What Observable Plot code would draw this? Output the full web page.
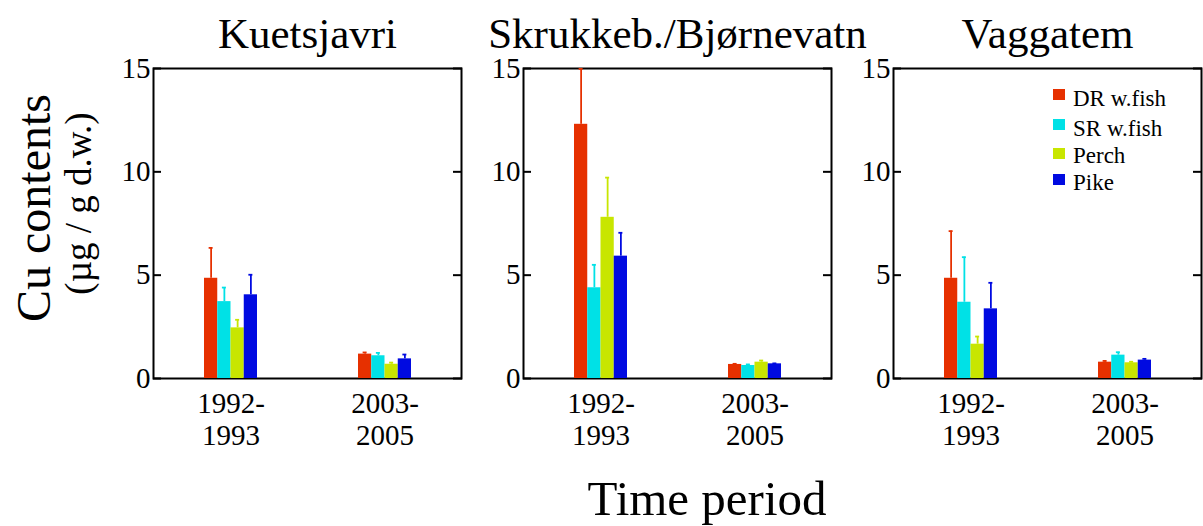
<!DOCTYPE html>
<html>
<head>
<meta charset="utf-8">
<script src="https://cdn.jsdelivr.net/npm/d3@7"></script>
<script src="https://cdn.jsdelivr.net/npm/@observablehq/plot@0.6"></script>
<style>
html, body { margin: 0; padding: 0; background: #fff; }
#wrap { position: relative; width: 1203px; height: 526px; font-family: "Liberation Serif", "Times New Roman", serif; color: #000; overflow: hidden; }
#chart { position: absolute; left: 0; top: 0; }
#chart svg text { font-family: "Liberation Serif", "Times New Roman", serif; }
.lbl { position: absolute; white-space: nowrap; text-align: center; }
.leg { position: absolute; white-space: nowrap; font-size: 23px; line-height: 23px; }
.sw { position: absolute; width: 12px; height: 11px; }
</style>
</head>
<body>
<div id="wrap"><div id="chart"></div></div>
<script>
// ---- data ----
const lakes = ["Kuetsjavri", "Skrukkeb./Bjørnevatn", "Vaggatem"];
const periods = ["1992-1993", "2003-2005"];
const species = ["DR w.fish", "SR w.fish", "Perch", "Pike"];
const colors = ["#e63000", "#00e1e6", "#c8e600", "#000ae1"];
// values ordered: lake1-p1, lake1-p2, lake2-p1, lake2-p2, lake3-p1, lake3-p2
const meanDR    = [4.85, 1.18, 12.30, 0.68, 4.85, 0.79];
const sdDR      = [1.47, 0.08, 2.68, 0.03, 2.28, 0.06];
const meanSR    = [3.72, 1.10, 4.39, 0.63, 3.69, 1.13];
const sdSR      = [0.68, 0.14, 1.11, 0.05, 2.18, 0.14];
const meanPerch = [2.45, 0.69, 7.80, 0.79, 1.66, 0.76];
const sdPerch   = [0.39, 0.08, 1.92, 0.08, 0.37, 0.05];
const meanPike  = [4.05, 0.95, 5.92, 0.71, 3.37, 0.89];
const sdPike    = [0.97, 0.21, 1.13, 0.02, 1.26, 0.06];
const yTicks = [0, 5, 10, 15];

const means = [meanDR, meanSR, meanPerch, meanPike];
const sds = [sdDR, sdSR, sdPerch, sdPike];
const rows = [];
lakes.forEach((lake, li) => periods.forEach((period, pi) => species.forEach((s, si) => {
  const k = li * 2 + pi;
  rows.push({lake, period, species: s, mean: means[si][k], top: means[si][k] + sds[si][k]});
})));

// ---- chart ----
const serif = "Liberation Serif";
const barW = 13.25;
const marks = [Plot.frame({strokeWidth: 2})];
species.forEach((s, i) => {
  const d = rows.filter(r => r.species === s);
  marks.push(
    Plot.barY(d, {fx: "lake", x: "period", y: "mean", fill: colors[i], insetLeft: i * barW, insetRight: (3 - i) * barW}),
    Plot.ruleX(d, {fx: "lake", x: "period", y1: "mean", y2: "top", stroke: colors[i], strokeWidth: 1.8, dx: (i - 1.5) * barW}),
    Plot.tickY(d, {fx: "lake", x: "period", y: "top", stroke: colors[i], strokeWidth: 1.8,
      insetLeft: i * barW + barW / 2 - 2, insetRight: (3 - i) * barW + barW / 2 - 2})
  );
});
marks.push(
  Plot.axisY(yTicks, {anchor: "left", tickSize: -8, tickPadding: 11, fontSize: 29, fontFamily: serif, strokeWidth: 2, label: null, facetAnchor: null}),
  Plot.axisY(yTicks, {anchor: "right", tickSize: -9, tickFormat: () => "", strokeWidth: 2, label: null, facetAnchor: null}),
  Plot.axisX({tickSize: 0, tickPadding: 12, fontSize: 29, fontFamily: serif, lineHeight: 1.1, label: null, tickFormat: d => d.replace("-", "-\n")}),
  Plot.axisFx({anchor: "top", tickSize: 0, tickPadding: 21, fontSize: 43, fontFamily: serif, label: null})
);

const chart = Plot.plot({
  width: 1203,
  height: 526,
  marginLeft: 153,
  marginRight: 2,
  marginTop: 68,
  marginBottom: 148,
  style: {fontFamily: "'Liberation Serif', 'Times New Roman', serif", background: "white", color: "black", overflow: "visible"},
  fx: {domain: lakes, paddingInner: 0.168, paddingOuter: 0},
  x: {domain: periods, paddingInner: 0.658, paddingOuter: 0.329},
  y: {domain: [0, 15]},
  marks
});
document.getElementById("chart").appendChild(chart);

// ---- labels ----
const wrap = document.getElementById("wrap");
function addLabel(text, size, cx, cy, rotate) {
  const el = document.createElement("div");
  el.className = "lbl";
  el.textContent = text;
  el.style.fontSize = size + "px";
  el.style.lineHeight = size + "px";
  el.style.width = "400px";
  el.style.left = (cx - 200) + "px";
  el.style.top = (cy - size / 2) + "px";
  if (rotate) el.style.transform = "rotate(-90deg)";
  wrap.appendChild(el);
}
addLabel("Cu contents", 48, 34, 208, true);
addLabel("(µg / g d.w.)", 37, 78, 203, true);
addLabel("Time period", 49, 707, 515 - 0.3375 * 49, false);

// ---- legend ----
const swTop = [89, 119, 148, 174];
const txtBase = [106, 136, 163, 190];
species.forEach((s, i) => {
  const sw = document.createElement("div");
  sw.className = "sw";
  sw.style.left = "1053px";
  sw.style.top = swTop[i] + "px";
  sw.style.background = colors[i];
  wrap.appendChild(sw);
  const t = document.createElement("div");
  t.className = "leg";
  t.textContent = s;
  t.style.left = "1073px";
  t.style.top = (txtBase[i] - 0.8375 * 23) + "px";
  wrap.appendChild(t);
});
</script>
</body>
</html>
